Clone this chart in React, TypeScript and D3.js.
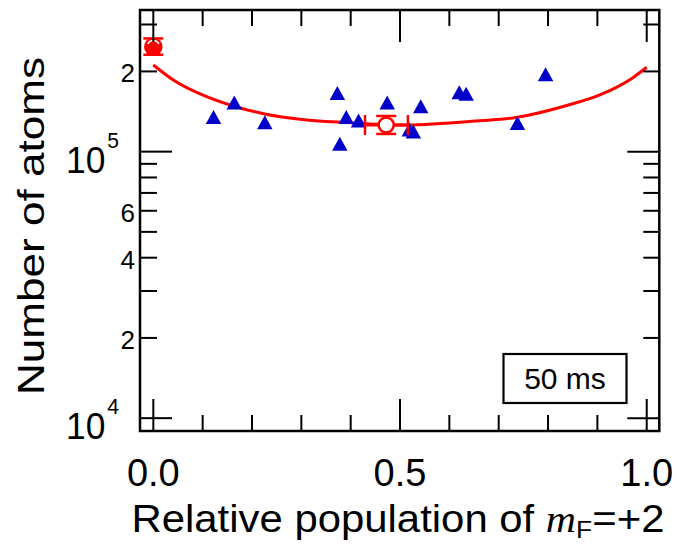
import React from "react";
import * as d3 from "d3";

// ---- data ----
const triX = [0.122, 0.164, 0.226, 0.373, 0.378, 0.391, 0.416, 0.474, 0.519, 0.527, 0.542, 0.62, 0.634, 0.738, 0.795];
const triY = [1.35e5, 1.53e5, 1.29e5, 1.66e5, 1.07e5, 1.35e5, 1.31e5, 1.53e5, 1.21e5, 1.19e5, 1.48e5, 1.67e5, 1.65e5, 1.28e5, 1.95e5];

const filledX = [0];
const filledY = [2.475e5];
const filledYLo = [2.31e5];
const filledYHi = [2.66e5];

const openX = [0.472];
const openY = [1.259e5];
const openXLo = [0.429];
const openXHi = [0.516];
const openYLo = [1.165e5];
const openYHi = [1.361e5];

const curveX = [0, 0.0405, 0.108, 0.162, 0.226, 0.297, 0.392, 0.5, 0.635, 0.738, 0.838, 0.905, 0.972, 1.0];
const curveY = [2.115e5, 1.857e5, 1.608e5, 1.484e5, 1.385e5, 1.323e5, 1.285e5, 1.259e5, 1.296e5, 1.346e5, 1.49e5, 1.632e5, 1.895e5, 2.073e5];

const xMajor = [0, 0.5, 1.0];
const xMajorLabels = ["0.0", "0.5", "1.0"];
const xMinor = [0.1, 0.2, 0.3, 0.4, 0.6, 0.7, 0.8, 0.9];
const yMajor = [1e4, 1e5];
const yMajorExp = ["4", "5"];
const yMinor = [2e4, 3e4, 4e4, 5e4, 6e4, 7e4, 8e4, 9e4, 2e5, 3e5];
const yMinorLabelled = [2e5, 6e4, 4e4, 2e4];
const yMinorLabels = ["2", "6", "4", "2"];

const xDomain = [-0.027, 1.0255];
const yDomain = [8.95e3, 3.4e5];

const legendText = "50 ms";

const RED = "#ff0000";
const BLUE = "#0000c8";
const FONT = "'Liberation Sans', Arial, sans-serif";

const triType = {
  draw(ctx: any, _size: number) {
    const w = 15.5, h = 14;
    ctx.moveTo(0, -h / 2);
    ctx.lineTo(w / 2, h / 2);
    ctx.lineTo(-w / 2, h / 2);
    ctx.closePath();
  },
};

export default function App() {
  const L = 140, R = 659.3, T = 10, B = 431;
  const x = d3.scaleLinear().domain(xDomain).range([L, R]);
  const y = d3.scaleLog().domain(yDomain).range([B, T]);

  const triPath = d3.symbol().type(triType as any)() as string;
  const line = d3
    .line<number>()
    .x((_, i) => x(curveX[i]))
    .y((d) => y(d))
    .curve(d3.curveMonotoneX);

  const majLen = 32, minLen = 16;
  const capW = 10;

  return (
    <svg width={677} height={545} style={{ position: "absolute", left: 0, top: 0, background: "#fff" }}>
      <rect x={0} y={0} width={677} height={545} fill="#fff" />

      {/* data: curve */}
      <path d={line(curveY) || ""} fill="none" stroke={RED} strokeWidth={3} />

      {/* triangles */}
      {triX.map((v, i) => (
        <path key={"t" + i} d={triPath} transform={`translate(${x(v)},${y(triY[i])})`} fill={BLUE} />
      ))}

      {/* filled red point with error bar */}
      {filledX.map((v, i) => {
        const cx = x(v), cy = y(filledY[i]);
        const yl = y(filledYLo[i]), yh = y(filledYHi[i]);
        return (
          <g key={"f" + i} stroke={RED} strokeWidth={2.5}>
            <line x1={cx} x2={cx} y1={yl} y2={yh} />
            <line x1={cx - capW} x2={cx + capW} y1={yl} y2={yl} />
            <line x1={cx - capW} x2={cx + capW} y1={yh} y2={yh} />
            <circle cx={cx} cy={cy} r={9.3} fill={RED} stroke="none" />
            <path
              d={d3.arc()({ innerRadius: 6.2, outerRadius: 6.2, startAngle: -1.1, endAngle: 1.1 }) || ""}
              transform={`translate(${cx},${cy})`}
              stroke="#fff"
              strokeWidth={1.6}
              fill="none"
            />
          </g>
        );
      })}

      {/* open red point with x & y error bars */}
      {openX.map((v, i) => {
        const cx = x(v), cy = y(openY[i]);
        const xl = x(openXLo[i]), xh = x(openXHi[i]);
        const yl = y(openYLo[i]), yh = y(openYHi[i]);
        return (
          <g key={"o" + i} stroke={RED} strokeWidth={2.5}>
            <line x1={xl} x2={xh} y1={cy} y2={cy} strokeWidth={3} />
            <line x1={xl} x2={xl} y1={cy - capW} y2={cy + capW} />
            <line x1={xh} x2={xh} y1={cy - capW} y2={cy + capW} />
            <line x1={cx} x2={cx} y1={yl} y2={yh} />
            <line x1={cx - capW} x2={cx + capW} y1={yl} y2={yl} />
            <line x1={cx - capW} x2={cx + capW} y1={yh} y2={yh} />
            <circle cx={cx} cy={cy} r={7.5} fill="#fff" strokeWidth={2.5} />
          </g>
        );
      })}

      {/* ticks */}
      <g stroke="#000" strokeWidth={2}>
        {xMajor.map((v, i) => (
          <g key={"xM" + i}>
            <line x1={x(v)} x2={x(v)} y1={B} y2={B - majLen} />
            <line x1={x(v)} x2={x(v)} y1={T} y2={T + majLen} />
          </g>
        ))}
        {xMinor.map((v, i) => (
          <g key={"xm" + i}>
            <line x1={x(v)} x2={x(v)} y1={B} y2={B - minLen} />
            <line x1={x(v)} x2={x(v)} y1={T} y2={T + minLen} />
          </g>
        ))}
        {yMajor.map((v, i) => (
          <g key={"yM" + i}>
            <line x1={L} x2={L + majLen} y1={y(v)} y2={y(v)} />
            <line x1={R} x2={R - majLen} y1={y(v)} y2={y(v)} />
          </g>
        ))}
        {yMinor.map((v, i) => (
          <g key={"ym" + i}>
            <line x1={L} x2={L + minLen + 1} y1={y(v)} y2={y(v)} />
            <line x1={R} x2={R - minLen} y1={y(v)} y2={y(v)} />
          </g>
        ))}
      </g>

      {/* frame */}
      <rect x={L} y={T} width={R - L} height={B - T} fill="none" stroke="#000" strokeWidth={2.5} />

      {/* legend box */}
      <rect x={503.5} y={354} width={123} height={49} fill="#fff" stroke="#000" strokeWidth={2.2} />
      <text x={565} y={388.5} fontFamily={FONT} fontSize={30} textAnchor="middle" fill="#000">
        {legendText}
      </text>

      {/* x tick labels */}
      {xMajor.map((v, i) => (
        <text key={"xl" + i} x={x(v)} y={486} fontFamily={FONT} fontSize={38} textAnchor="middle" fill="#000">
          {xMajorLabels[i]}
        </text>
      ))}

      {/* y minor labels */}
      {yMinorLabelled.map((v, i) => (
        <text key={"yl" + i} x={135} y={y(v) + 11} fontFamily={FONT} fontSize={26} textAnchor="end" fill="#000">
          {yMinorLabels[i]}
        </text>
      ))}

      {/* y major labels 10^n */}
      {yMajor.map((v, i) => (
        <text
          key={"yML" + i}
          x={66}
          y={y(v) + 21}
          fill="#000"
          fontFamily={FONT}
          fontSize={37}
          textLength={53}
          lengthAdjust="spacingAndGlyphs"
        >
          10
          <tspan fontSize={22} dx={2} dy={-25}>
            {yMajorExp[i]}
          </tspan>
        </text>
      ))}

      {/* axis titles */}
      <text
        x={131.5}
        y={532}
        fontFamily={FONT}
        fontSize={38}
        fill="#000"
        textLength={533}
        lengthAdjust="spacingAndGlyphs"
      >
        Relative population of{" "}
        <tspan fontFamily="'Liberation Serif', 'Times New Roman', serif" fontStyle="italic">
          m
        </tspan>
        <tspan fontSize={24} dy={6}>
          F
        </tspan>
        <tspan dy={-6}>=+2</tspan>
      </text>

      <text
        transform={`translate(44,226) rotate(-90)`}
        x={0}
        y={0}
        fontFamily={FONT}
        fontSize={37}
        textAnchor="middle"
        fill="#000"
        textLength={338}
        lengthAdjust="spacingAndGlyphs"
      >
        Number of atoms
      </text>
    </svg>
  );
}
